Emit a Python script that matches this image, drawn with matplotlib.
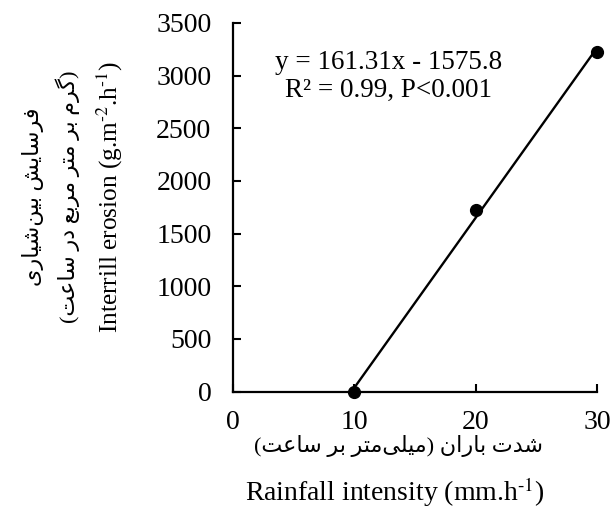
import matplotlib
matplotlib.use("Agg")
import matplotlib.pyplot as plt
import numpy as np

# data
rain = [10, 20, 30]
erosion = [0, 1725, 3226]
slope, intercept = 161.31, -1575.8

xticks = [0, 10, 20, 30]
yticks = [0, 500, 1000, 1500, 2000, 2500, 3000, 3500]

fa_ylab1 = "فرسایش بین‌شیاری"
fa_ylab2 = "(گرم بر متر مربع در ساعت)"
fa_xlab = "شدت باران (میلی‌متر بر ساعت)"

# minimal Persian shaping (matplotlib has no RTL/joining support)
# isolated, final, initial, medial ; None for right-joining letters
FORMS = {
    'ا': (0xFE8D, 0xFE8E, None, None),
    'ب': (0xFE8F, 0xFE90, 0xFE91, 0xFE92),
    'ت': (0xFE95, 0xFE96, 0xFE97, 0xFE98),
    'د': (0xFEA9, 0xFEAA, None, None),
    'ر': (0xFEAD, 0xFEAE, None, None),
    'س': (0xFEB1, 0xFEB2, 0xFEB3, 0xFEB4),
    'ش': (0xFEB5, 0xFEB6, 0xFEB7, 0xFEB8),
    'ع': (0xFEC9, 0xFECA, 0xFECB, 0xFECC),
    'ف': (0xFED1, 0xFED2, 0xFED3, 0xFED4),
    'ل': (0xFEDD, 0xFEDE, 0xFEDF, 0xFEE0),
    'م': (0xFEE1, 0xFEE2, 0xFEE3, 0xFEE4),
    'ن': (0xFEE5, 0xFEE6, 0xFEE7, 0xFEE8),
    'ی': (0xFBFC, 0xFBFD, 0xFBFE, 0xFBFF),
    'گ': (0xFB92, 0xFB93, 0xFB94, 0xFB95),
}


def shape(s):
    out = []
    for i, c in enumerate(s):
        if c not in FORMS:
            if c != '\u200c':
                out.append(c)
            continue
        prev = s[i - 1] if i > 0 else ''
        nxt = s[i + 1] if i + 1 < len(s) else ''
        jp = prev in FORMS and FORMS[prev][2] is not None
        jn = FORMS[c][2] is not None and nxt in FORMS
        f = FORMS[c]
        if jp and jn:
            g = f[3]
        elif jp:
            g = f[1]
        elif jn:
            g = f[2]
        else:
            g = f[0]
        out.append(chr(g))
    vis = ''.join(reversed(out))
    return vis.translate(str.maketrans('()', ')('))


plt.rcParams['font.family'] = ['Liberation Serif', 'DejaVu Sans']
plt.rcParams['mathtext.fontset'] = 'stix'

fig = plt.figure(figsize=(6.13, 5.08), dpi=100)
ax = fig.add_axes([0.380, 0.229, 0.594, 0.726])

xl = np.array([rain[0], rain[-1]])
ax.plot(xl, slope * xl + intercept, color='black', lw=1.7, clip_on=False)
ax.plot(rain, erosion, 'o', color='black', ms=8.5, clip_on=False, zorder=5)

ax.set_xlim(0, 30)
ax.set_ylim(0, 3500)
ax.set_xticks(xticks)
ax.set_yticks(yticks)
ax.tick_params(direction='in', length=6, width=1.5, labelsize=20)
ax.tick_params(axis='x', pad=13)
ax.tick_params(axis='y', pad=15.5)
for sp in ['top', 'right']:
    ax.spines[sp].set_visible(False)
for sp in ['left', 'bottom']:
    ax.spines[sp].set_linewidth(1.6)

ax.text(12.8, 2990, 'y = 161.31x - 1575.8\nR² = 0.99, P<0.001',
        ha='center', va='center', fontsize=19.5, linespacing=1.15)

fig.text(0.650, 0.123, shape(fa_xlab), ha='center', va='center', fontsize=16)
fig.text(0.645, 0.031, 'Rainfall intensity (mm.h$^{\\text{-1}}$)', ha='center', va='center',
         fontsize=20)

yc = 1 - 197 / 508
fig.text(0.054, yc, shape(fa_ylab1), rotation=90, ha='center', va='center', fontsize=16)
fig.text(0.110, yc, shape(fa_ylab2), rotation=90, ha='center', va='center', fontsize=16)
fig.text(0.180, yc, 'Interrill erosion (g.m$^{\\text{-2}}$.h$^{\\text{-1}}$)', rotation=90,
         ha='center', va='center', fontsize=18.2)

fig.savefig('out.png', dpi=100)
